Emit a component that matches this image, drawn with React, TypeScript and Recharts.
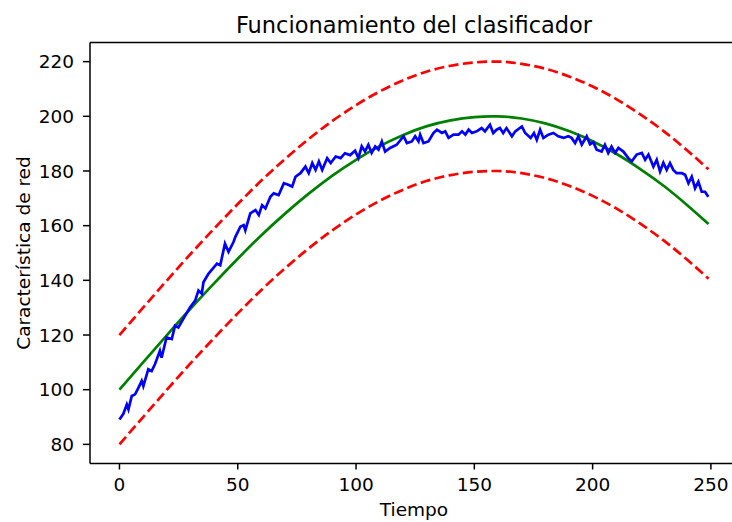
import React from 'react';
import { LineChart, Line, XAxis, YAxis, ReferenceLine } from 'recharts';

// reference curve (green) and the +/-20 band (red dashed), read every 10 units
const refTime = [0, 10, 20, 30, 40, 50, 60, 70, 80, 90, 100, 110, 120, 130, 140, 150, 157, 160, 170, 180, 190, 200, 210, 220, 230, 240, 249];
const refValue = [100, 110, 119.9, 129.6, 138.9, 147.9, 156.5, 164.4, 171.7, 178.3, 184.1, 189.1, 193.2, 196.4, 198.5, 199.7, 200, 200, 199.2, 197.4, 194.6, 190.9, 186.3, 180.8, 174.6, 167.5, 160.6];
const upperValue = [120, 130, 139.9, 149.6, 158.9, 167.9, 176.5, 184.4, 191.7, 198.3, 204.1, 209.1, 213.2, 216.4, 218.5, 219.7, 220, 220, 219.2, 217.4, 214.6, 210.9, 206.3, 200.8, 194.6, 187.5, 180.6];
const lowerValue = [80, 90, 99.9, 109.6, 118.9, 127.9, 136.5, 144.4, 151.7, 158.3, 164.1, 169.1, 173.2, 176.4, 178.5, 179.7, 180, 180, 179.2, 177.4, 174.6, 170.9, 166.3, 160.8, 154.6, 147.5, 140.6];

// measured network feature (blue)
const featTime = [
  0, 1.6, 3.1, 3.8, 5.2, 6.6, 8.0, 9.4, 10.1, 12.2, 13.6, 15.0, 17.1, 17.8, 19.9, 22.1, 23.5, 24.9, 27.0, 29.8,
  32.0, 33.4, 34.8, 35.5, 37.6, 41.2, 42.6, 44.6, 46.1, 48.2, 49.0, 51.1, 52.5, 53.2, 55.3, 57.5, 58.9, 60.3, 61.7, 63.8,
  65.2, 67.3, 69.5, 71.6, 73.0, 74.4, 76.5, 78.6, 80.0, 81.5, 82.9, 84.3, 85.7, 87.8, 89.3, 91.4, 93.5, 95.3, 97.5, 99.6,
  101.0, 102.4, 103.8, 105.2, 106.6, 108.1, 109.5, 110.9, 112.3, 114.4, 117.2, 120.1, 121.5, 123.6, 125.0, 126.4, 127.1, 128.5, 130.6, 132.7,
  134.2, 136.3, 137.7, 139.1, 141.2, 143.3, 144.8, 146.2, 147.6, 149.0, 151.0, 153.1, 154.5, 156.6, 158.0, 159.4, 160.8, 162.2, 163.6, 165.9,
  167.3, 170.1, 171.5, 173.8, 175.2, 176.4, 177.8, 179.2, 181.3, 183.4, 185.5, 187.7, 189.7, 191.1, 192.6, 194.0, 195.4, 197.5, 198.9, 200.3,
  201.7, 203.8, 205.2, 206.6, 208.0, 209.5, 210.9, 213.0, 215.1, 216.5, 218.6, 220.8, 222.2, 223.6, 225.7, 227.1, 228.5, 229.9, 231.3, 232.7,
  234.1, 235.5, 237.7, 239.1, 240.5, 241.9, 243.3, 244.7, 246.1, 247.5, 248.9,
];
const featValue = [
  89.1, 91.1, 94.6, 92.8, 97.7, 98.3, 100.7, 103.2, 101.3, 107.5, 106.8, 109.3, 114.2, 111.7, 119.1, 118.5, 123.4, 122.8, 125.9, 130.1,
  132.6, 136.3, 135.1, 139.3, 142.4, 146.1, 145.5, 153.4, 150.4, 154.0, 155.9, 159.6, 160.2, 158.3, 164.5, 165.7, 163.9, 167.5, 166.3, 170.6,
  171.8, 171.2, 175.5, 174.9, 174.3, 177.9, 179.2, 181.6, 179.2, 182.9, 180.4, 183.5, 180.4, 184.7, 182.9, 185.3, 184.7, 186.5, 185.8, 187.4,
  184.7, 189.0, 187.1, 189.6, 186.6, 189.0, 187.8, 190.8, 187.1, 188.4, 189.6, 192.7, 190.2, 190.8, 192.7, 190.8, 193.3, 190.2, 190.8, 193.9,
  195.1, 193.9, 194.5, 192.1, 193.3, 193.3, 194.5, 193.3, 195.1, 193.9, 194.5, 195.7, 194.5, 196.9, 193.9, 195.1, 195.7, 193.9, 195.7, 192.7,
  194.5, 196.3, 193.9, 192.1, 193.9, 191.4, 195.1, 192.1, 193.3, 193.9, 192.7, 192.1, 192.7, 192.1, 190.2, 192.7, 189.6, 192.7, 189.8, 190.5,
  187.8, 187.1, 189.6, 186.6, 188.9, 186.6, 188.4, 187.1, 184.7, 183.5, 186.0, 186.6, 184.1, 186.0, 181.6, 184.1, 179.8, 183.0, 180.4, 182.9,
  180.4, 179.2, 179.2, 178.6, 175.5, 177.9, 173.7, 176.1, 172.4, 172.4, 170.6,
];

const xTicks = [0, 50, 100, 150, 200, 250];
const yTicks = [80, 100, 120, 140, 160, 180, 200, 220];

const FONT = '"DejaVu Sans", sans-serif';
const tickStyle = { fill: '#000', fontSize: 18.5, fontFamily: FONT };
const spine = { stroke: '#000', strokeWidth: 1.5 };

export default function App() {
  const refData = refTime.map((t, i) => ({ t, ref: refValue[i], up: upperValue[i], low: lowerValue[i] }));
  const featData = featTime.map((t, i) => ({ t, feat: featValue[i] }));

  return (
    <div style={{ position: 'absolute', left: 0, top: 0, width: 732, height: 522, overflow: 'hidden', background: '#fff', fontFamily: FONT }}>
      <div style={{ position: 'absolute', left: 90, width: 648, top: 12, textAlign: 'center', fontSize: 22.5, color: '#000', whiteSpace: 'nowrap' }}>
        Funcionamiento del clasificador
      </div>
      <div style={{ position: 'absolute', left: 90, width: 648, top: 499, textAlign: 'center', fontSize: 18.5, color: '#000' }}>
        Tiempo
      </div>
      <div
        style={{
          position: 'absolute', left: 23, top: 253, fontSize: 18.5, color: '#000', whiteSpace: 'nowrap',
          transform: 'translate(-50%, -50%) rotate(-90deg)',
        }}
      >
        Característica de red
      </div>
      <LineChart width={738} height={522} margin={{ top: 42.5, right: 0, bottom: 0, left: 0 }}>
        <XAxis
          dataKey="t" type="number" domain={[-12.45, 261.45]} ticks={xTicks}
          height={58.5} tick={tickStyle} tickSize={6} tickMargin={8}
          axisLine={spine} tickLine={spine} allowDataOverflow
        />
        <YAxis
          type="number" domain={[73, 227]} ticks={yTicks} width={90}
          tick={tickStyle} tickSize={7} tickMargin={9}
          axisLine={spine} tickLine={spine} allowDataOverflow
        />
        <ReferenceLine y={227} stroke="#000" strokeWidth={1.5} />
        <Line data={refData} dataKey="up" type="monotone" stroke="#ff0000" strokeWidth={2.7} strokeDasharray="10 4.4" dot={false} isAnimationActive={false} />
        <Line data={refData} dataKey="low" type="monotone" stroke="#ff0000" strokeWidth={2.7} strokeDasharray="10 4.4" dot={false} isAnimationActive={false} />
        <Line data={refData} dataKey="ref" type="monotone" stroke="#008000" strokeWidth={2.7} dot={false} isAnimationActive={false} />
        <Line data={featData} dataKey="feat" type="linear" stroke="#0000ff" strokeWidth={2.7} dot={false} isAnimationActive={false} />
      </LineChart>
    </div>
  );
}
